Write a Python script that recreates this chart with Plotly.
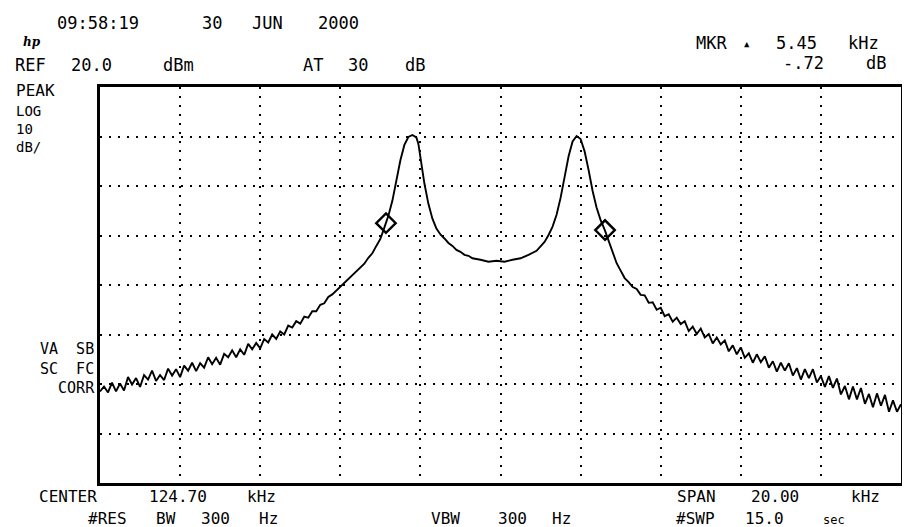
import plotly.graph_objects as go

# ---------------- data ----------------
center_khz = 124.70
span_khz = 20.00
ref_level_dbm = 20.0
db_per_div = 10

freq_khz = [
    114.7, 114.8, 114.9, 115.0, 115.1, 115.2, 115.3, 115.4, 115.5, 115.6,
    115.7, 115.8, 115.9, 116.0, 116.1, 116.2, 116.3, 116.4, 116.5, 116.6,
    116.7, 116.8, 116.9, 117.0, 117.1, 117.2, 117.3, 117.4, 117.5, 117.6,
    117.7, 117.8, 117.9, 118.0, 118.1, 118.2, 118.3, 118.4, 118.5, 118.6,
    118.7, 118.8, 118.9, 119.0, 119.1, 119.2, 119.3, 119.4, 119.5, 119.6,
    119.7, 119.8, 119.9, 120.0, 120.1, 120.2, 120.3, 120.4, 120.5, 120.6,
    120.7, 120.8, 120.9, 121.0, 121.1, 121.2, 121.3, 121.4, 121.5, 121.6,
    121.7, 121.8, 121.9, 122.0, 122.1, 122.2, 122.3, 122.4, 122.5, 122.6,
    122.65, 122.7, 122.75, 122.8, 122.9, 123.0, 123.1, 123.2, 123.3, 123.4,
    123.5, 123.6, 123.7, 123.8, 123.9, 124.0, 124.2, 124.4, 124.6, 124.8,
    125.0, 125.2, 125.4, 125.6, 125.7, 125.8, 125.9, 126.0, 126.1, 126.2,
    126.3, 126.4, 126.5, 126.6, 126.7, 126.8, 126.9, 127.0, 127.1, 127.2,
    127.3, 127.4, 127.5, 127.6, 127.7, 127.8, 127.9, 128.0, 128.1, 128.2,
    128.3, 128.4, 128.5, 128.6, 128.7, 128.8, 128.9, 129.0, 129.1, 129.2,
    129.3, 129.4, 129.5, 129.6, 129.7, 129.8, 129.9, 130.0, 130.1, 130.2,
    130.3, 130.4, 130.5, 130.6, 130.7, 130.8, 130.9, 131.0, 131.1, 131.2,
    131.3, 131.4, 131.5, 131.6, 131.7, 131.8, 131.9, 132.0, 132.1, 132.2,
    132.3, 132.4, 132.5, 132.6, 132.7, 132.8, 132.9, 133.0, 133.1, 133.2,
    133.3, 133.4, 133.5, 133.6, 133.7, 133.8, 133.9, 134.0, 134.1, 134.2,
    134.3, 134.4, 134.5, 134.6, 134.7,
]

level_dbm = [
    -41.5, -40.5, -41.7, -39.7, -41.5, -39.9, -41.3, -38.6, -40.1, -38.8,
    -40.6, -38.2, -39.1, -37.3, -39.4, -38.2, -39.2, -36.9, -38.3, -37.0,
    -38.6, -36.3, -37.3, -35.7, -37.4, -35.8, -36.7, -34.6, -36.0, -34.7,
    -36.1, -33.9, -34.6, -33.2, -34.6, -33.0, -34.1, -31.9, -33.0, -31.7,
    -32.8, -30.9, -31.6, -30.0, -30.9, -29.4, -30.0, -28.2, -28.6, -27.3,
    -27.8, -26.4, -26.6, -25.3, -25.3, -24.0, -23.7, -22.4, -21.9, -21.1,
    -20.3, -19.7, -18.8, -18.1, -17.3, -16.4, -15.7, -14.5, -13.6, -12.1,
    -10.7, -8.4, -6.0, -3.0, 1.0, 5.2, 8.3, 9.9, 10.3, 9.8,
    8.5, 5.8, 3.0, 0.5, -3.6, -6.6, -8.6, -9.8, -10.6, -11.5,
    -12.1, -12.9, -13.3, -13.9, -14.1, -14.6, -14.9, -15.3, -15.1, -15.3,
    -14.9, -14.6, -13.9, -13.1, -12.2, -11.3, -9.9, -8.2, -5.8, -2.4,
    1.8, 6.0, 9.0, 10.1, 9.5, 7.0, 3.2, -1.0, -4.4, -6.9,
    -8.8, -11.0, -13.3, -15.6, -17.1, -18.6, -19.4, -20.4, -20.8, -22.0,
    -22.1, -23.6, -23.5, -25.0, -24.6, -26.3, -25.9, -27.4, -26.6, -27.9,
    -27.3, -29.3, -28.4, -29.9, -28.8, -30.6, -29.9, -31.8, -30.6, -32.0,
    -31.2, -33.4, -32.2, -34.0, -32.6, -34.7, -33.8, -35.7, -34.0, -35.6,
    -34.4, -36.7, -35.4, -37.5, -35.7, -37.3, -35.8, -38.3, -36.8, -39.1,
    -37.0, -38.8, -37.0, -39.7, -38.4, -40.6, -38.4, -40.8, -38.9, -42.1,
    -40.4, -43.1, -40.5, -43.1, -40.8, -44.0, -42.0, -44.7, -41.9, -44.4,
    -42.2, -45.6, -43.3, -45.6, -44.1,
]

marker_khz = [121.84, 127.31]
marker_dbm = [-7.5, -8.9]

# ---------------- figure ----------------
W, H = 910, 527
L, R, T, B = 92, 17, 79, 52
x0 = center_khz - span_khz / 2
x1 = center_khz + span_khz / 2
y_top = ref_level_dbm
y_bot = ref_level_dbm - 8 * db_per_div

fig = go.Figure()
fig.add_trace(go.Scatter(
    x=freq_khz, y=level_dbm, mode="lines",
    line=dict(color="black", width=1.9), hoverinfo="skip", showlegend=False,
))
fig.add_trace(go.Scatter(
    x=marker_khz, y=marker_dbm, mode="markers",
    marker=dict(symbol="diamond-open", size=15, color="black",
                line=dict(color="black", width=2.4)),
    hoverinfo="skip", showlegend=False,
))

axis_common = dict(
    showline=True, linecolor="black", linewidth=2.5, mirror=True,
    showgrid=True, gridcolor="black", gridwidth=2, griddash="2px,7px",
    zeroline=False, showticklabels=False, ticks="", fixedrange=True,
)
fig.update_xaxes(range=[x0, x1], tick0=x0, dtick=span_khz / 10, **axis_common)
fig.update_yaxes(range=[y_bot, y_top], tick0=y_bot, dtick=db_per_div, **axis_common)

FONT = "DejaVu Sans Mono"


def px(xp, yp):
    return (xp - L) / (W - L - R), (H - B - yp) / (H - T - B)


# (text, x px, y px, font size, x anchor, alignment)
labels = [
    ("09:58:19", 90, 15, 17, "center", "center"),
    ("30", 204, 15, 17, "center", "center"),
    ("JUN", 259, 15, 17, "center", "center"),
    ("2000", 330, 15, 17, "center", "center"),
    ("REF", 22, 57, 17, "center", "center"),
    ("20.0", 83, 57, 17, "center", "center"),
    ("dBm", 170, 57, 17, "center", "center"),
    ("AT", 305, 57, 17, "center", "center"),
    ("30", 350, 57, 17, "center", "center"),
    ("dB", 407, 57, 17, "center", "center"),
    ("MKR", 703, 35, 17, "center", "center"),
    ("▲", 739, 36, 9, "center", "center"),
    ("5.45", 788, 35, 17, "center", "center"),
    ("kHz", 855, 35, 17, "center", "center"),
    ("-.72", 795, 55, 17, "center", "center"),
    ("dB", 868, 55, 17, "center", "center"),
    ("PEAK", 7, 83, 16, "left", "left"),
    ("LOG<br>10<br>dB/", 7, 121, 14, "left", "left"),
    ("VA  SB<br>SC  FC<br>CORR", 88, 360, 15, "right", "right"),
    ("CENTER", 60, 488, 16, "center", "center"),
    ("124.70", 170, 488, 16, "center", "center"),
    ("kHz", 253, 488, 16, "center", "center"),
    ("#RES", 99, 510, 16, "center", "center"),
    ("BW", 158, 510, 16, "center", "center"),
    ("300", 207, 510, 16, "center", "center"),
    ("Hz", 260, 510, 16, "center", "center"),
    ("VBW", 437, 510, 16, "center", "center"),
    ("300", 504, 510, 16, "center", "center"),
    ("Hz", 553, 510, 16, "center", "center"),
    ("SPAN", 688, 488, 16, "center", "center"),
    ("20.00", 767, 488, 16, "center", "center"),
    ("kHz", 857, 488, 16, "center", "center"),
    ("#SWP", 687, 510, 16, "center", "center"),
    ("15.0", 756, 510, 16, "center", "center"),
    ("sec", 826, 512, 12, "center", "center"),
]

annotations = []
for text, xp, yp, size, xanchor, align in labels:
    ax, ay = px(xp, yp)
    annotations.append(dict(
        text=text, x=ax, y=ay, xref="paper", yref="paper",
        xanchor=xanchor, yanchor="middle", align=align, showarrow=False,
        borderpad=0,
        font=dict(family=FONT, size=size, color="black"),
    ))
lx, ly = px(24, 34)
annotations.append(dict(
    text="<b><i>hp</i></b>", x=lx, y=ly, xref="paper", yref="paper",
    xanchor="center", yanchor="middle", showarrow=False, borderpad=0,
    font=dict(family="DejaVu Serif", size=12, color="black"),
))

fig.update_layout(
    width=W, height=H,
    margin=dict(l=L, r=R, t=T, b=B),
    paper_bgcolor="white", plot_bgcolor="white",
    annotations=annotations,
    showlegend=False,
)

fig.write_html("out.html", config={"displayModeBar": False})
